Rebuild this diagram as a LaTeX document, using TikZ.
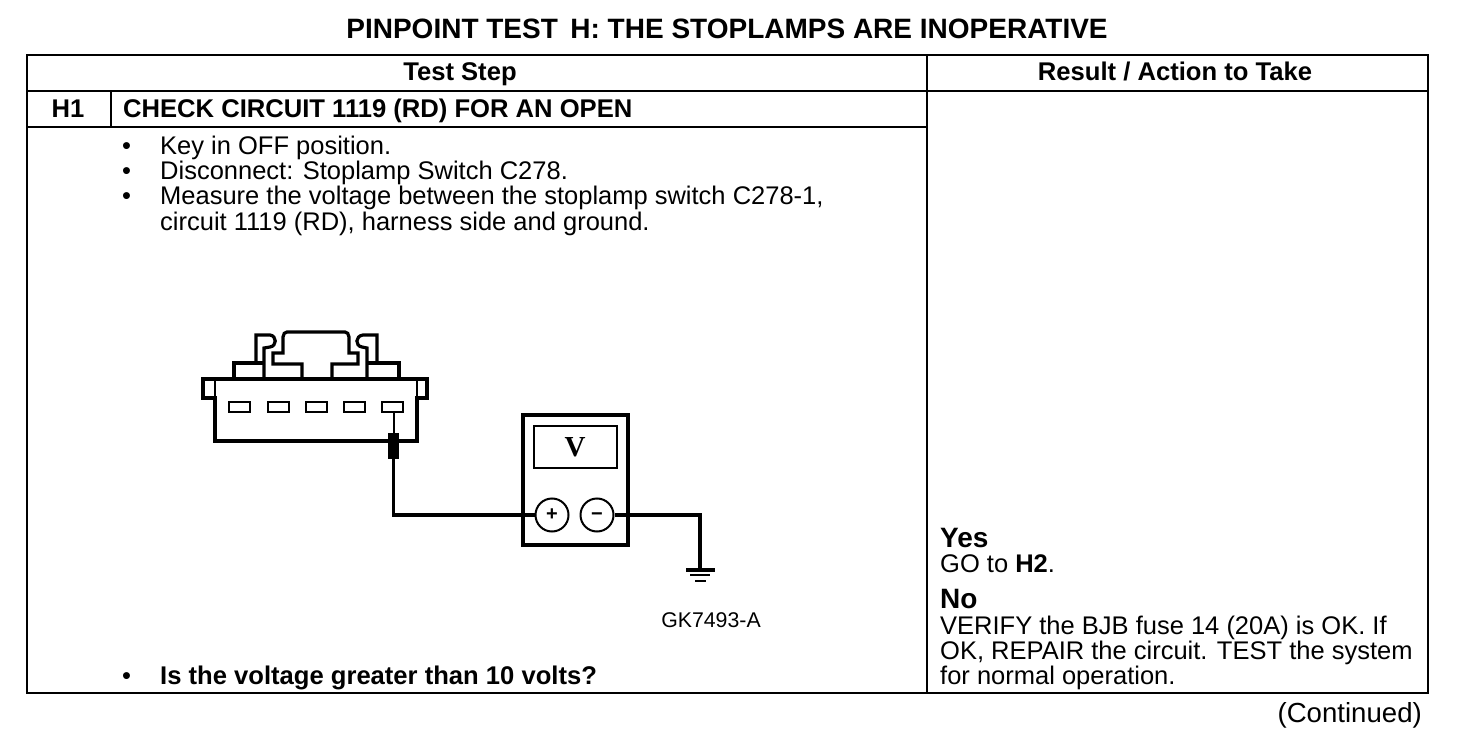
\documentclass[tikz,border=0pt]{standalone}
\usepackage{fontspec}
\setmainfont{Liberation Sans}
\newfontfamily\meterfont{Liberation Serif}
\tikzset{
  rule/.style={line width=2.6pt},
  hair/.style={line width=2pt},
  wire/.style={line width=3.2pt,line join=miter},
  body/.style={anchor=base west,inner sep=0pt,font=\fontsize{25.5}{26}\selectfont},
  strong/.style={body,font=\fontsize{25.6}{26}\selectfont\bfseries},
  big/.style={body,font=\fontsize{28}{28}\selectfont\bfseries},
  head/.style={anchor=base,inner sep=0pt,font=\fontsize{25.6}{26}\selectfont\bfseries},
  slot/.style={draw,line width=2pt,minimum width=21pt,minimum height=10pt,inner sep=0pt},
  jack/.style={draw,circle,line width=2pt,minimum size=33pt,inner sep=0pt,text height=11.5pt,text depth=0pt,font=\fontsize{20}{20}\selectfont\bfseries},
}
\begin{document}
\begin{tikzpicture}[x=1pt,y=-1pt]
  \useasboundingbox (0,0) rectangle (1472,754);
  % table
  \draw[rule] (27,55) rectangle (1428,693);
  \draw[rule] (27,91) -- (1428,91);
  \draw[rule] (27,127) -- (927,127);
  \draw[rule] (927,55) -- (927,693);
  \draw[hair] (111,91) -- (111,127);
  % headings
  \node[head,font=\fontsize{28}{28}\selectfont\bfseries] (title) at (727,39) {PINPOINT TEST\, H: THE STOPLAMPS ARE INOPERATIVE};
  \node[head] (stephead) at (460,81) {Test Step};
  \node[head] (resulthead) at (1175,81) {Result / Action to Take};
  \node[head] (h1) at (68,118) {H1};
  \node[strong] (h1title) at (123,118) {CHECK CIRCUIT 1119 (RD) FOR AN OPEN};
  % steps
  \foreach \y/\name/\txt in {155/keyoff/{Key in OFF position.},
    180/unplug/{Disconnect: Stoplamp Switch C278.},
    205/measure/{Measure the voltage between the stoplamp switch C278-1,},
    230/harness/{circuit 1119 (RD), harness side and ground.}}
    \node[body] (\name) at (160,\y) {\txt};
  \foreach \y in {155,180,205,684}
    \node[body] at (122,\y) {•};
  \node[strong] (question) at (160,684) {Is the voltage greater than 10 volts?};
  % results
  \node[big] (yes) at (940,547) {Yes};
  \node[body] (goto) at (940,572) {GO to \textbf{H2}.};
  \node[big] (no) at (940,608) {No};
  \node[body] (verify) at (940,634) {VERIFY the BJB fuse 14 (20A) is OK. If};
  \node[body] (repair) at (940,659) {OK, REPAIR the circuit. TEST the system};
  \node[body] (normal) at (940,684) {for normal operation.};
  \node[body,anchor=base east,font=\fontsize{27.6}{28}\selectfont] (cont) at (1422,722) {(Continued)};
  \node[body,anchor=base,font=\fontsize{21.3}{22}\selectfont] (figid) at (711,627) {GK7493-A};
  % connector
  \draw[wire]
    (215,379) -- (203,379) -- (203,398) -- (215,398) -- (215,441) -- (417,441) -- (417,398)
    -- (427,398) -- (427,379) -- (417,379) -- cycle;
  \draw[line width=1.4pt] (215,379) -- (215,398) (417,379) -- (417,398);
  \draw[wire] (234,379) -- (234,363) -- (264,363);
  \draw[wire] (256,363) -- (256,335) -- (270,335)
    .. controls (277,336) and (277,346) .. (270,347) -- (264,348) -- (264,379);
  \draw[wire] (302,379) -- (302,364) -- (273,364) -- (273,353) -- (283,353) -- (283,337)
    .. controls (283,334) and (285,332) .. (287,332) -- (345,332)
    .. controls (347,332) and (349,334) .. (349,337) -- (349,353) -- (358,353) -- (358,364) -- (332,364) -- (332,379);
  \draw[wire] (367,379) -- (367,348) -- (362,347)
    .. controls (355,346) and (355,336) .. (363,335) -- (377,335) -- (377,363);
  \draw[wire] (367,363) -- (399,363) -- (399,379);
  \foreach \x/\name in {239/slota,278/slotb,316/slotc,354/slotd,392/slote}
    \node[slot] (\name) at (\x,407) {};
  % meter
  \node[draw,line width=3.6pt,minimum width=105pt,minimum height=130pt,inner sep=0pt] (meter) at (575.5,480) {};
  \node[draw,line width=2pt,minimum width=83pt,minimum height=42pt,inner sep=0pt,font=\fontsize{29}{29}\selectfont\meterfont\bfseries] (display) at (575,447) {V};
  \node[jack] (plus) at (552,515) {+};
  \node[jack] (minus) at (597,515) {−};
  % probe and leads
  \coordinate (gnd) at (700,570);
  \node[fill=black,minimum width=11pt,minimum height=26pt,inner sep=0pt] (probe) at (393.5,446) {};
  \draw[hair] (slote.south -| probe.north) -- (probe.north);
  \draw[wire] (probe.south) |- (plus.west);
  \draw[wire] (minus.east) -| (gnd);
  % ground
  \draw[wire] ([xshift=-14pt]gnd) -- ([xshift=15pt]gnd);
  \draw[line width=2pt] ([xshift=-10pt,yshift=-5pt]gnd) -- ([xshift=10pt,yshift=-5pt]gnd);
  \draw[line width=2pt] ([xshift=-5pt,yshift=-11pt]gnd) -- ([xshift=6pt,yshift=-11pt]gnd);
\end{tikzpicture}
\end{document}
